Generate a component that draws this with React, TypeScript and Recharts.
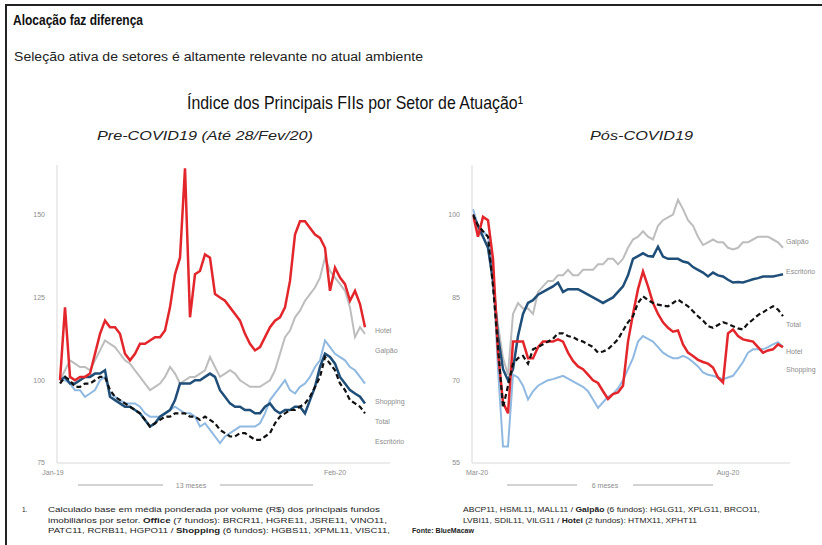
import React from "react";
import { LineChart, Line, XAxis, YAxis } from "recharts";

// Pre-COVID19 (Jan-19 .. Feb-20), index base 100
const leftHotel = [
  100, 122, 101, 100, 101, 101, 102, 108, 114, 118,
  116, 116, 114, 108, 106, 108, 111, 111, 112, 113,
  113, 115, 122, 132, 137, 164, 119, 132, 133, 138,
  137, 126, 125, 124, 122, 120, 118, 114, 111, 109,
  110, 113, 116, 118, 119, 122, 130, 144, 148, 148,
  146, 144, 143, 140, 127, 134, 131, 129, 124, 127,
  123, 116,
];
const leftGalpao = [
  100, 103, 106, 105, 104, 104, 103, 106, 109, 112,
  111, 110, 108, 106, 105, 103, 101, 99, 97, 98,
  99, 101, 104, 102, 99, 100, 101, 101, 102, 103,
  107, 104, 101, 102, 103, 102, 100, 99, 98, 98,
  98, 99, 100, 103, 108, 113, 115, 119, 121, 124,
  126, 128, 131, 137, 133, 131, 129, 127, 122, 113,
  116, 114,
];
const leftEscritorio = [
  100, 101, 99, 99, 100, 101, 101, 102, 102, 103,
  95, 94, 93, 92, 92, 91, 90, 88, 86, 87,
  89, 90, 91, 94, 99, 99, 99, 100, 100, 101,
  102, 101, 97, 95, 93, 92, 92, 91, 91, 90,
  90, 92, 93, 91, 90, 91, 91, 92, 92, 90,
  94, 98, 104, 108, 107, 105, 101, 99, 97, 96,
  95, 93,
];
const leftShopping = [
  100, 100, 99, 97, 97, 95, 96, 97, 100, 101,
  96, 95, 94, 93, 93, 93, 92, 90, 89, 89,
  89, 90, 91, 92, 91, 90, 90, 89, 86, 87,
  85, 83, 81, 83, 84, 85, 86, 86, 86, 86,
  87, 90, 94, 96, 98, 100, 97, 96, 98, 99,
  101, 104, 106, 112, 110, 108, 107, 106, 104, 103,
  101, 99,
];
const leftTotal = [
  99, 101, 100, 98, 98, 99, 99, 100, 101, 101,
  97, 95, 94, 93, 92, 91, 90, 88, 86, 87,
  88, 89, 89, 90, 90, 90, 89, 89, 88, 89,
  88, 87, 85, 84, 83, 83, 84, 84, 83, 82,
  82, 83, 84, 87, 89, 90, 91, 91, 92, 93,
  95, 98, 101, 107, 105, 103, 99, 97, 94, 93,
  92, 90,
];

// Pos-COVID19 (Mar-20 .. Aug-20)
const rightGalpao = [
  100, 97, 96, 94, 88, 80, 74, 71, 82, 84,
  83, 83, 82, 86, 87, 88, 88, 89, 89, 90,
  89, 89, 90, 90, 90, 91, 91, 92, 92, 91,
  92, 94, 95.5, 96, 97, 96, 95.5, 98, 99, 99.5,
  100, 102.7, 101, 99, 98, 96, 94.5, 95, 95.5, 95,
  95, 94, 93.7, 94, 95, 95, 95.5, 96, 96, 96,
  95.5, 95, 94,
];
const rightEscritorio = [
  100, 98, 96, 94, 88, 78, 72, 70, 72, 78,
  82, 84, 84.5, 85.5, 86, 86.5, 87, 87.7, 86, 86.5,
  86.5, 86.5, 86, 85.5, 85, 84.5, 84, 84.5, 85, 86,
  87, 89, 92, 92.5, 93, 92.5, 92.4, 94.2, 92.4, 92,
  92, 92, 91.5, 91.3, 90.5, 90, 89.5, 88.8, 89.5, 89,
  88.8, 88.2, 87.7, 87.8, 87.7, 88, 88.3, 88.5, 88.8, 88.8,
  88.8, 89, 89.2,
];
const rightHotel = [
  100, 96, 99.6, 99, 92, 75, 66, 64, 77, 77,
  77, 74, 74, 76, 77, 77, 77, 77.4, 77, 75,
  73.5, 72.5, 72, 71, 70, 69.5, 68, 66.6, 67.5, 67.8,
  69, 77, 82, 86.5, 89.7, 87, 84, 82, 80.5, 79.5,
  78.8, 79, 76.5, 75, 74.4, 73.7, 73.3, 73, 72.3, 70.5,
  69.6, 78.5, 79.2, 78, 77.4, 77.2, 77, 76, 75, 75.4,
  75.6, 76.5, 76,
];
const rightShopping = [
  101, 98, 97, 96, 90, 72, 58, 58, 71, 70.5,
  69, 66.5, 68, 69, 69.5, 70, 70.2, 70.5, 70.8, 70.3,
  69.8, 69.3, 68.8, 68, 66.5, 65, 66, 67, 67.5, 68.5,
  70, 72, 74, 77, 78, 77.5, 77, 76, 75, 74.4,
  74, 74, 74.4, 74, 73.3, 72.5, 71.4, 71, 70.8, 70.5,
  70.2, 70.5, 70.8, 72, 73.3, 75, 75.6, 75.6, 75.6, 76,
  76.5, 76.9, 76,
];
const rightTotal = [
  100, 98, 97, 96, 87, 76, 65, 69, 73, 74,
  74.4, 73, 75.6, 76, 76.5, 77, 77.5, 78.5, 78.5, 78,
  77.8, 77.3, 77, 76.5, 76, 75, 75.2, 75.6, 76.5, 77.4,
  79, 80.5, 81.6, 84, 85.2, 84.5, 84, 83.7, 83.5, 83.4,
  84, 84.6, 84, 83.4, 82.5, 81.6, 80.8, 79.8, 79.5, 80,
  80.5, 80.2, 79.8, 79.4, 79.2, 80.3, 81, 81.8, 82.3, 82.9,
  83.4, 82.8, 81.6,
];

const leftXTicks = [0, 55];
const leftXLabels = ["Jan-19", "Feb-20"];
const leftYTicks = [75, 100, 125, 150];
const rightXTicks = [0, 51];
const rightXLabels = ["Mar-20", "Aug-20"];
const rightYTicks = [55, 70, 85, 100];

// draw order: back to front
const SERIES = ["Galpão", "Shopping", "Escritório", "Hotel", "Total"];

const STYLE: Record<string, { stroke: string; width: number; dash?: string }> = {
  Galpão: { stroke: "#bdbdbd", width: 2 },
  Shopping: { stroke: "#90b9e2", width: 2 },
  Escritório: { stroke: "#1f4e79", width: 2.5 },
  Hotel: { stroke: "#e3262b", width: 2.5 },
  Total: { stroke: "#111111", width: 2.2, dash: "5 3" },
};

const leftLabelDy: Record<string, number> = { Hotel: 4, Galpão: 17, Shopping: 19, Total: 9, Escritório: 39 };
const rightLabelDy: Record<string, number> = { Galpão: -6, Escritório: -2, Total: 9, Hotel: 5, Shopping: 23 };

function buildRows(cols: Record<string, number[]>) {
  const n = cols[SERIES[0]].length;
  return Array.from({ length: n }, (_, i) => {
    const row: Record<string, number> = { i };
    SERIES.forEach((s) => (row[s] = cols[s][i]));
    return row;
  });
}

const leftRows = buildRows({
  Galpão: leftGalpao,
  Shopping: leftShopping,
  Escritório: leftEscritorio,
  Hotel: leftHotel,
  Total: leftTotal,
});
const rightRows = buildRows({
  Galpão: rightGalpao,
  Shopping: rightShopping,
  Escritório: rightEscritorio,
  Hotel: rightHotel,
  Total: rightTotal,
});

const FONT = "'Liberation Sans', Arial, sans-serif";
const AXIS_GRAY = "#d9d9d9";
const TICK_GRAY = "#8c8c8c";

function Panel(props: {
  rows: Record<string, number>[];
  left: number;
  width: number;
  yAxisWidth: number;
  xDomain: [number, number];
  xTicks: number[];
  xLabels: string[];
  firstTickShift: number;
  yDomain: [number, number];
  yTicks: number[];
  labelDx: number;
  labelDy: Record<string, number>;
}) {
  const last = props.rows.length - 1;
  return (
    <div style={{ position: "absolute", left: props.left, top: 150 }}>
      <LineChart
        width={props.width}
        height={350}
        data={props.rows}
        margin={{ top: 15, right: 30, bottom: 7, left: 0 }}
      >
        <XAxis
          type="number"
          dataKey="i"
          domain={props.xDomain}
          ticks={props.xTicks}
          height={30}
          tickLine={false}
          tickSize={0}
          tickMargin={8}
          axisLine={{ stroke: AXIS_GRAY }}
          tick={(t: any) => {
            const k = props.xTicks.indexOf(t.payload.value);
            return (
              <text
                x={t.x + (k === 0 ? props.firstTickShift : 0)}
                y={t.y + 4}
                textAnchor="middle"
                fontSize={7}
                fontFamily={FONT}
                fill={TICK_GRAY}
              >
                {props.xLabels[k]}
              </text>
            );
          }}
        />
        <YAxis
          domain={props.yDomain}
          ticks={props.yTicks}
          width={props.yAxisWidth}
          tickLine={false}
          tickSize={0}
          tickMargin={12}
          axisLine={{ stroke: AXIS_GRAY }}
          tick={{ fontSize: 7, fill: TICK_GRAY, fontFamily: FONT }}
        />
        {SERIES.map((s) => (
          <Line
            key={s}
            dataKey={s}
            type="linear"
            stroke={STYLE[s].stroke}
            strokeWidth={STYLE[s].width}
            strokeDasharray={STYLE[s].dash}
            dot={false}
            isAnimationActive={false}
            label={(p: any) =>
              p.index === last ? (
                <text
                  key={s + "-lbl"}
                  x={p.x + props.labelDx}
                  y={p.y + props.labelDy[s]}
                  dominantBaseline="middle"
                  fontSize={7}
                  fontFamily={FONT}
                  fill={TICK_GRAY}
                >
                  {s}
                </text>
              ) : (
                <g key={s + "-" + p.index} />
              )
            }
          />
        ))}
      </LineChart>
    </div>
  );
}

function Overlay() {
  const note = { fontFamily: FONT, fontSize: 6.5, fill: "#222" };
  return (
    <svg
      width={822}
      height={545}
      style={{ position: "absolute", left: 0, top: 0, pointerEvents: "none" }}
    >
      <line x1={5} y1={5} x2={822} y2={5} stroke="#222" strokeWidth={2} />
      <line x1={6} y1={4} x2={6} y2={545} stroke="#222" strokeWidth={2} />

      <text x={13} y={25} fontFamily={FONT} fontWeight="bold" fontSize={15} fill="#111"
        textLength={130} lengthAdjust="spacingAndGlyphs">
        Alocação faz diferença
      </text>
      <text x={14} y={61} fontFamily={FONT} fontSize={12} fill="#222"
        textLength={409} lengthAdjust="spacingAndGlyphs">
        Seleção ativa de setores é altamente relevante no atual ambiente
      </text>
      <text x={187} y={109} fontFamily={FONT} fontSize={19} fill="#111"
        textLength={336} lengthAdjust="spacingAndGlyphs">
        Índice dos Principais FIIs por Setor de Atuação¹
      </text>
      <text x={97} y={140} fontFamily={FONT} fontStyle="italic" fontSize={13} fill="#222"
        textLength={216} lengthAdjust="spacingAndGlyphs">
        Pre-COVID19 (Até 28/Fev/20)
      </text>
      <text x={590} y={140} fontFamily={FONT} fontStyle="italic" fontSize={13} fill="#222"
        textLength={103} lengthAdjust="spacingAndGlyphs">
        Pós-COVID19
      </text>

      <g stroke="#a6a6a6" strokeWidth={1}>
        <line x1={78} y1={485} x2={163} y2={485} />
        <line x1={220} y1={485} x2={313} y2={485} />
        <line x1={507} y1={485} x2={577} y2={485} />
        <line x1={633} y1={485} x2={713} y2={485} />
      </g>
      <text x={191} y={487.5} textAnchor="middle" fontFamily={FONT} fontSize={7} fill={TICK_GRAY}>
        13 meses
      </text>
      <text x={605} y={487.5} textAnchor="middle" fontFamily={FONT} fontSize={7} fill={TICK_GRAY}>
        6 meses
      </text>

      <text x={22} y={512} {...note}>1.</text>
      <text x={48} y={512} {...note} textLength={332} lengthAdjust="spacingAndGlyphs">
        Calculado base em média ponderada por volume (R$) dos principais fundos
      </text>
      <text x={48} y={522.5} {...note} textLength={339} lengthAdjust="spacingAndGlyphs">
        imobiliários por setor. <tspan fontWeight="bold">Office</tspan> (7 fundos): BRCR11, HGRE11, JSRE11, VINO11,
      </text>
      <text x={48} y={533} {...note} textLength={342} lengthAdjust="spacingAndGlyphs">
        PATC11, RCRB11, HGPO11 / <tspan fontWeight="bold">Shopping</tspan> (6 fundos): HGBS11, XPML11, VISC11,
      </text>
      <text x={463} y={512} {...note} textLength={297} lengthAdjust="spacingAndGlyphs">
        ABCP11, HSML11, MALL11 / <tspan fontWeight="bold">Galpão</tspan> (6 fundos): HGLG11, XPLG11, BRCO11,
      </text>
      <text x={463} y={522.5} {...note} textLength={234} lengthAdjust="spacingAndGlyphs">
        LVBI11, SDIL11, VILG11 / <tspan fontWeight="bold">Hotel</tspan> (2 fundos): HTMX11, XPHT11
      </text>
      <text x={412} y={533} {...note} fontWeight="bold" textLength={62} lengthAdjust="spacingAndGlyphs">
        Fonte: BlueMacaw
      </text>
    </svg>
  );
}

export default function App() {
  return (
    <div
      style={{
        position: "absolute",
        left: 0,
        top: 0,
        width: 822,
        height: 545,
        background: "#fff",
        overflow: "hidden",
        fontFamily: FONT,
      }}
    >
      <Panel
        rows={leftRows}
        left={0}
        width={420}
        yAxisWidth={57}
        xDomain={[-0.6, 66]}
        xTicks={leftXTicks}
        xLabels={leftXLabels}
        firstTickShift={-7}
        yDomain={[75, 165]}
        yTicks={leftYTicks}
        labelDx={10}
        labelDy={leftLabelDy}
      />
      <Panel
        rows={rightRows}
        left={420}
        width={400}
        yAxisWidth={52}
        xDomain={[-0.2, 63.4]}
        xTicks={rightXTicks}
        xLabels={rightXLabels}
        firstTickShift={4}
        yDomain={[55, 109]}
        yTicks={rightYTicks}
        labelDx={3}
        labelDy={rightLabelDy}
      />
      <Overlay />
    </div>
  );
}
